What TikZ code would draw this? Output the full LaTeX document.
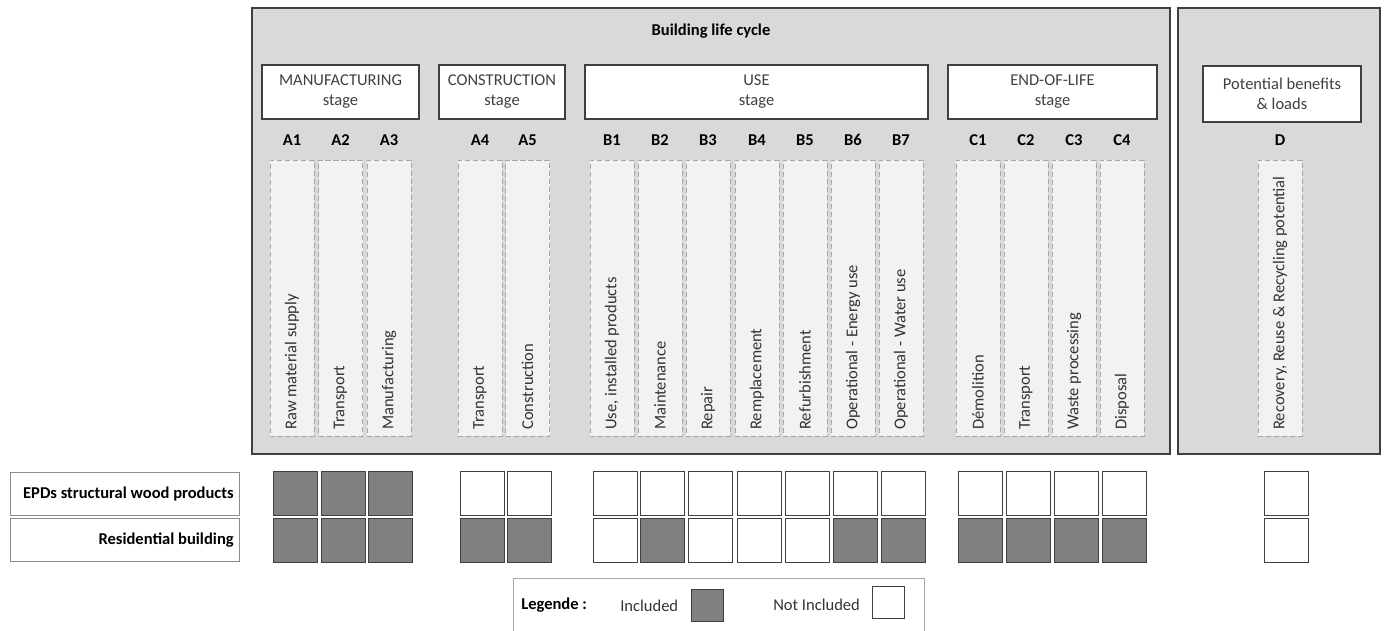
\documentclass[tikz,border=0pt]{standalone}
\usepackage{fontspec}
\setmainfont{Carlito}
\usetikzlibrary{positioning}
\definecolor{panel}{HTML}{D9D9D9}
\definecolor{edge}{HTML}{404040}
\definecolor{modfill}{HTML}{F2F2F2}
\definecolor{dashline}{HTML}{A6A6A6}
\definecolor{incl}{HTML}{808080}
\definecolor{rowedge}{HTML}{8C8C8C}
\newcommand{\fs}{\fontsize{12.4}{15}\selectfont}
\tikzset{
  cyclebox/.style={rectangle, draw=edge, fill=panel, line width=0.9pt, inner sep=0pt, minimum height=334.5pt},
  stagebox/.style={rectangle, draw=edge, fill=white, line width=0.8pt, align=center, inner sep=0pt,
                   minimum height=40.5pt, font=\fs, text=black!75},
  modbox/.style={rectangle, draw=dashline, dash pattern=on 4pt off 2pt, fill=modfill, line width=0.6pt,
                 inner sep=0pt, minimum width=33pt, minimum height=207pt},
  modtxt/.style={rotate=90, anchor=west, inner sep=0pt, font=\fs, text=black!80},
  modcode/.style={font=\fs\bfseries},
  inbox/.style={rectangle, draw=edge, fill=incl, line width=0.7pt, inner sep=0pt, minimum size=33pt},
  outbox/.style={inbox, fill=white},
  rowbox/.style={rectangle, draw=rowedge, fill=white, line width=0.7pt, inner xsep=4pt, inner ysep=0pt,
                 minimum width=171.75pt, minimum height=32.25pt, text width=163.75pt, align=flush right,
                 font=\fs\bfseries},
  legbox/.style={rectangle, draw=dashline, line width=0.7pt, inner sep=0pt},
  lbl/.style={font=\fs, text=black!80, anchor=west, inner sep=0pt}
}
\begin{document}
\begin{tikzpicture}[x=0.75pt, y=-0.75pt]
 \useasboundingbox (0,0) rectangle (1387,631);
 % panels
 \node[cyclebox, minimum width=688.5pt] (life) at (711,231) {};
 \node[cyclebox, minimum width=151.5pt] (extra) at (1279,231) {};
 \node[modcode] (title) at (711,31) {Building life cycle};

 % stages
 \node[stagebox, minimum width=117.75pt] (manu) at (340.5,92) {MANUFACTURING\\stage};
 \node[stagebox, minimum width=94.5pt] (constr) at (502,92) {CONSTRUCTION\\stage};
 \node[stagebox, minimum width=257.25pt] (use) at (756.5,92) {USE\\stage};
 \node[stagebox, minimum width=156.75pt] (eol) at (1052.5,92) {END-OF-LIFE\\stage};
 \node[stagebox, minimum width=118.5pt, minimum height=42pt] (ben) at (1282,94) {Potential benefits\\\& loads};

 % row headers
 \node[rowbox] (epd) at (124.5,493.5) {EPDs structural wood products};
 \node[rowbox] (res) at (124.5,540) {Residential building};

 % modules, with the two rows of squares
 \foreach \n/\x/\sx/\lab/\txt/\fa/\fb in {
   a1/292/295/A1/Raw material supply/inbox/inbox,
   a2/340.5/343/A2/Transport/inbox/inbox,
   a3/389/390/A3/Manufacturing/inbox/inbox,
   a4/480/482/A4/Transport/outbox/inbox,
   a5/527.5/529/A5/Construction/outbox/inbox,
   b1/612/615/B1/{Use, installed products}/outbox/outbox,
   b2/660/662/B2/Maintenance/outbox/inbox,
   b3/708/710/B3/Repair/outbox/outbox,
   b4/757/759/B4/Remplacement/outbox/outbox,
   b5/805/807/B5/Refurbishment/outbox/outbox,
   b6/853/855/B6/Operational - Energy use/outbox/inbox,
   b7/901/903/B7/Operational - Water use/outbox/inbox,
   c1/978/980/C1/Démolition/outbox/inbox,
   c2/1026/1028/C2/Transport/outbox/inbox,
   c3/1074/1076/C3/Waste processing/outbox/inbox,
   c4/1122/1124/C4/Disposal/outbox/inbox,
   d/1280/1286/D/{Recovery, Reuse \& Recycling potential}/outbox/outbox}{
   \node[modcode] (k-\n) at (\x,140) {\lab};
   \node[modbox] (m-\n) at (\x,298) {};
   \node[modtxt] (t-\n) at (\x,430) {\txt};
   \node[\fa] (e-\n) at (\sx,493.5) {};
   \node[\fb] (r-\n) at (\sx,540) {};
 }

 % legend
 \node[legbox, minimum width=308.25pt, minimum height=46.5pt] (leg) at (718.5,609) {};
 \node[lbl, font=\fs\bfseries, text=black] (legt) at (521,605) {Legende :};
 \node[lbl] (legin) at (620,606) {Included};
 \node[inbox, minimum size=24pt] (legsq) at (707,605) {};
 \node[lbl] (legout) at (773,605) {Not Included};
 \node[outbox, minimum size=24pt] (legsq2) at (888,602.5) {};
\end{tikzpicture}
\end{document}
